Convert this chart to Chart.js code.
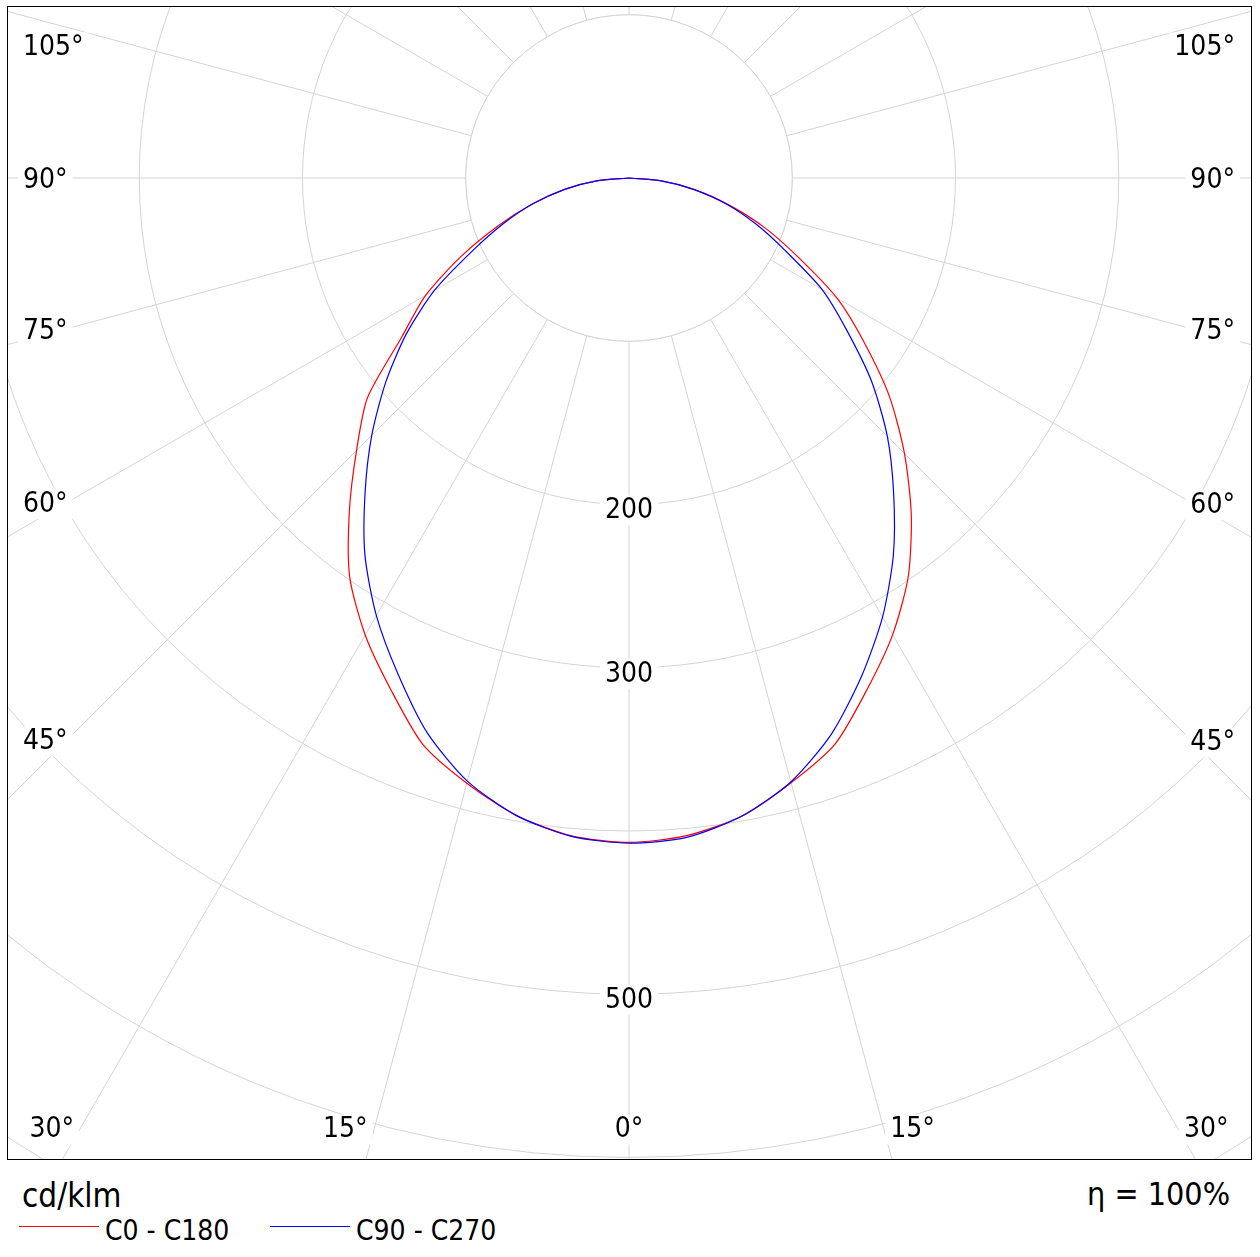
<!DOCTYPE html>
<html>
<head>
<meta charset="utf-8">
<script src="https://cdn.jsdelivr.net/npm/chart.js@4/dist/chart.umd.min.js"></script>
<style>
html,body{margin:0;padding:0;background:#fff;}
body{width:1260px;height:1257px;position:relative;overflow:hidden;font-family:"DejaVu Sans Condensed","DejaVu Sans",sans-serif;color:#000;}
#frame{position:absolute;left:7px;top:6px;width:1245px;height:1154px;box-sizing:border-box;border:1px solid #000;overflow:hidden;background:#fff;}
#c{position:absolute;left:-685px;top:-1135px;}
.t{position:absolute;white-space:nowrap;line-height:1;}
.sw{position:absolute;height:0;border-top:1px solid;}
</style>
</head>
<body>
<div id="frame"><canvas id="c" width="2612" height="2612"></canvas></div>
<div class="t" style="left:22px;top:1179px;font-size:33px">cd/klm</div>
<div class="t" style="right:30px;top:1178px;font-size:32px">η = 100%</div>
<div id="legend"></div>
<script>
// ---- data (cd/klm) ----
const gammaDeg = [0,5,10,15,20,25,30,35,40,45,50,55,60,65,70,75,80,85,90];
// C0 - C180 (red): left half and right half of the diagram
const c0c180Left  = [407,404.5,396.6,383.8,369.2,345.5,323.2,298.3,266.5,236,209,170,144,113.3,85,61,40,20,0];
const c0c180Right = [407,404.4,397,383.5,369,345.4,323,298.2,269,238.6,208.3,176,147,114,88,63,41,20,0];
// C90 - C270 (blue)
const c90c270Left  = [407.5,404.8,396.6,382.5,361.5,335,309.5,282,251.5,222.8,194.5,166.5,137.5,106,82,61,40,19,0];
const c90c270Right = [407.5,405.4,397,383,362.5,336.9,310.6,282.3,252.2,223.8,194.1,163,136.5,106,83,62,40,19,0];
const seriesNames = ['C0 - C180', 'C90 - C270'];
const seriesColors = ['#ff0000', '#0000ff'];
const tickLabels = [200, 300, 500];
const angleLabels = [0, 15, 30, 45, 60, 75, 90, 105];
const stepDeg = 5;
const rMax = 800;
const coreValue = 100;

// ---- build full-circle radar series ----
const angleAxis = [];
for (let a = 0; a < 360; a += stepDeg) angleAxis.push(a);
function fullCircle(left, right) {
  return angleAxis.map(a => {
    if (a <= 90) return left[gammaDeg.indexOf(a)];
    if (a >= 270) return right[gammaDeg.indexOf(360 - a)];
    return 0;
  });
}
const redFull = fullCircle(c0c180Left, c0c180Right);
const blueFull = fullCircle(c90c270Left, c90c270Right);
const core = angleAxis.map(() => coreValue);

// ---- legend (html text) ----
const lg = document.getElementById('legend');
seriesNames.forEach((n, i) => {
  const x0 = 19 + i * 251;
  const sw = document.createElement('div');
  sw.className = 'sw';
  sw.style.left = x0 + 'px'; sw.style.top = '1226px'; sw.style.width = '80px';
  sw.style.borderColor = seriesColors[i];
  lg.appendChild(sw);
  const t = document.createElement('div');
  t.className = 't';
  t.style.left = (x0 + 86) + 'px'; t.style.top = '1217px'; t.style.fontSize = '28px';
  t.textContent = n;
  lg.appendChild(t);
});

const FONT = '28px "DejaVu Sans Condensed", "DejaVu Sans", sans-serif';
const GRID = '#d4d4d4';

const labelPlugin = {
  id: 'polarLabels',
  afterDatasetsDraw(chart) {
    const r = chart.scales.r;
    const ctx = chart.ctx;
    const cv = chart.canvas, fr = document.getElementById('frame');
    const cr = cv.getBoundingClientRect(), frr = fr.getBoundingClientRect();
    const vis = {left: frr.left + fr.clientLeft - cr.left, top: frr.top + fr.clientTop - cr.top};
    vis.right = vis.left + fr.clientWidth; vis.bottom = vis.top + fr.clientHeight;
    const cx = r.xCenter, cy = r.yCenter;
    ctx.save();
    function box(text, x, y, align) {
      y += 2.5;
      ctx.font = FONT;
      const w = ctx.measureText(text).width;
      const x0 = align === 'left' ? x : align === 'right' ? x - w : x - w / 2;
      ctx.fillStyle = '#fff';
      ctx.fillRect(x0 - 5, y - 15, w + 10, 30);
      ctx.fillStyle = '#000';
      ctx.textAlign = align; ctx.textBaseline = 'middle';
      ctx.fillText(text, x, y + 0.5);
    }
    tickLabels.forEach(v => {
      const d = r.getDistanceFromCenterForValue(v);
      box(String(v), cx, cy + d + 3.5, 'center');
    });
    angleLabels.forEach(g => {
      [-1, 1].forEach(side => {
        if (g === 0 && side === 1) return;
        const rad = g * Math.PI / 180, s = Math.sin(rad), c = Math.cos(rad);
        const half = side < 0 ? cx - vis.left : vis.right - cx;
        const tSide = s > 1e-9 ? half / s : Infinity;
        const tBot = c > 1e-9 ? (vis.bottom - cy) / c : Infinity;
        const text = g + '°';
        if (tBot < tSide) {
          const y = vis.bottom - 32;
          if (g === 0) box(text, cx, y, 'center');
          else {
            const rx = cx + side * (y - cy) * Math.tan(rad);
            box(text, rx + side * 7, y, side < 0 ? 'right' : 'left');
          }
        } else {
          const dx = half - 60;
          let y = cy + dx * c / s;
          y = Math.max(y, vis.top + 38);
          if (side < 0) box(text, vis.left + 15, y, 'left');
          else box(text, vis.right - 16, y, 'right');
        }
      });
    });
    ctx.restore();
  }
};

new Chart(document.getElementById('c'), {
  type: 'radar',
  data: {
    labels: angleAxis,
    datasets: [
      {label: seriesNames[1], data: blueFull, borderColor: seriesColors[1], borderWidth: 1.2,
       pointRadius: 0, fill: false, tension: 0.25, order: 0},
      {label: seriesNames[0], data: redFull, borderColor: seriesColors[0], borderWidth: 1.2,
       pointRadius: 0, fill: false, tension: 0.25, order: 1},
      {label: 'core', data: core, borderColor: GRID, borderWidth: 1, backgroundColor: '#ffffff',
       pointRadius: 0, fill: 'origin', tension: 0, order: 2}
    ]
  },
  options: {
    responsive: false,
    animation: false,
    events: [],
    layout: {padding: 0},
    plugins: {legend: {display: false}, tooltip: {enabled: false}},
    scales: {
      r: {
        min: 0, max: rMax, startAngle: 180,
        ticks: {display: false, stepSize: 100},
        pointLabels: {display: false},
        grid: {circular: true, color: GRID, lineWidth: 1},
        angleLines: {display: true, color: GRID, lineWidth: (c) => (c.index % 3 === 0 ? 1 : 0)}
      }
    }
  },
  plugins: [labelPlugin]
});
</script>
</body>
</html>
